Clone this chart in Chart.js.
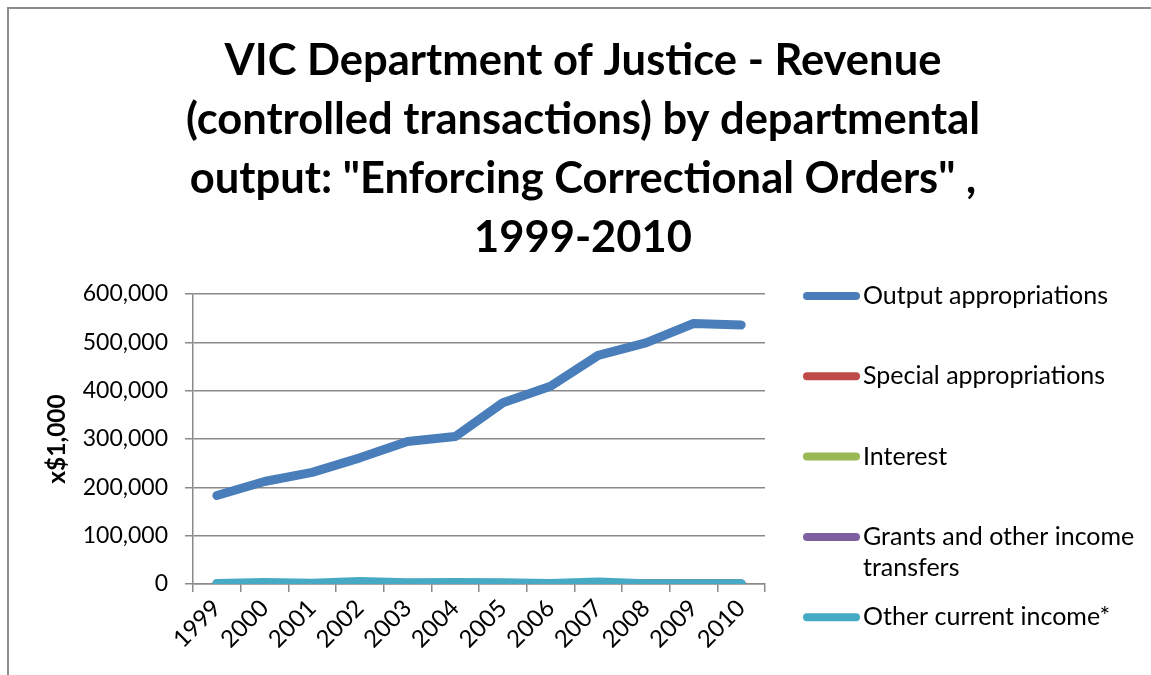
<!DOCTYPE html>
<html>
<head>
<meta charset="utf-8">
<script src="https://cdn.jsdelivr.net/npm/chart.js@4.4.0/dist/chart.umd.min.js"></script>
<style>
html, body { margin: 0; padding: 0; background: #fff; overflow: hidden; }
#wrap { position: relative; width: 1151px; height: 675px; }
#frame { position: absolute; left: 7px; top: 7px; width: 1200px; height: 700px;
  border-left: 2px solid #8c8c8c; border-top: 2px solid #8c8c8c; }
canvas { position: absolute; left: 0; top: 0; }
</style>
</head>
<body>
<div id="wrap">
  <div id="frame"></div>
  <canvas id="chart" width="1151" height="675"></canvas>
</div>
<script>
// data (x$1,000)
const years = ["1999","2000","2001","2002","2003","2004","2005","2006","2007","2008","2009","2010"];
const outputAppropriations = [183000, 212000, 231000, 261000, 295000, 305000, 375000, 409000, 473000, 499000, 539000, 536000];
const specialAppropriations = [0, 0, 0, 0, 0, 0, 0, 0, 0, 0, 0, 0];
const interest = [0, 0, 0, 0, 0, 0, 0, 0, 0, 0, 0, 0];
const grantsTransfers = [0, 0, 0, 0, 0, 0, 0, 0, 0, 0, 0, 0];
const otherCurrentIncome = [1000, 3000, 1500, 5000, 2500, 3000, 2500, 1000, 4000, 500, 500, 500];

const seriesNames = ["Output appropriations", "Special appropriations", "Interest",
  "Grants and other income transfers", "Other current income*"];
const seriesColors = ["#4a7ebb", "#be4b48", "#98b954", "#7d60a0", "#46aac5"];

const titleLines = ["VIC Department of Justice - Revenue",
  "(controlled transactions) by departmental",
  "output: \"Enforcing Correctional Orders\" ,",
  "1999-2010"];
const yTitle = "x$1,000";

const FONT = "Lato, 'Open Sans', sans-serif";
const GRID = "#8a8a8a";

const allValues = [outputAppropriations, specialAppropriations, interest, grantsTransfers, otherCurrentIncome];

const datasets = allValues.map((vals, i) => ({
  label: seriesNames[i],
  data: vals,
  borderColor: seriesColors[i],
  backgroundColor: seriesColors[i],
  borderWidth: 9,
  pointRadius: 0,
  tension: 0,
  borderCapStyle: "round",
  borderJoinStyle: "round",
  order: allValues.length - 1 - i
}));

/* ---------------- title drawn by hand (centred on whole chart) ---------------- */
const titlePlugin = {
  id: "bigTitle",
  afterDraw(chart) {
    const ctx = chart.ctx;
    ctx.save();
    ctx.font = "bold 43.5px " + FONT;
    ctx.fillStyle = "#000";
    ctx.textAlign = "center";
    ctx.textBaseline = "middle";
    titleLines.forEach((t, i) => ctx.fillText(t, 583, 61 + i * 59));
    ctx.restore();
  }
};

/* ---------------- legend on the right, Excel style ---------------- */
const legendPlugin = {
  id: "sideLegend",
  afterDraw(chart) {
    const ctx = chart.ctx;
    const x0 = chart.chartArea.right + 42;
    ctx.save();
    ctx.font = "25px " + FONT;
    ctx.textBaseline = "middle";
    ctx.textAlign = "left";
    chart.data.datasets.forEach((ds, i) => {
      const y = 296 + i * 80.3;
      ctx.strokeStyle = ds.borderColor;
      ctx.lineWidth = 8;
      ctx.lineCap = "round";
      ctx.beginPath();
      ctx.moveTo(x0, y);
      ctx.lineTo(x0 + 49, y);
      ctx.stroke();
      // wrap text
      const words = ds.label.split(" ");
      const lines = [];
      let cur = "";
      words.forEach(w => {
        const test = cur ? cur + " " + w : w;
        if (ctx.measureText(test).width > 280 && cur) { lines.push(cur); cur = w; }
        else cur = test;
      });
      lines.push(cur);
      ctx.fillStyle = "#000";
      lines.forEach((l, j) => ctx.fillText(l, x0 + 56, y + j * 31));
    });
    ctx.restore();
  }
};

new Chart(document.getElementById("chart"), {
  type: "line",
  data: { labels: years, datasets: datasets },
  plugins: [titlePlugin, legendPlugin],
  options: {
    responsive: false,
    devicePixelRatio: 1,
    animation: false,
    layout: { padding: { left: 0, right: 386, top: 294, bottom: 0 } },
    plugins: {
      legend: { display: false },
      title: { display: false },
      tooltip: { enabled: false }
    },
    scales: {
      x: {
        type: "category",
        offset: true,
        grid: { offset: true, drawOnChartArea: false, drawTicks: true, tickLength: 8, color: GRID, lineWidth: 1.5 },
        border: { color: GRID, width: 1.5 },
        ticks: { color: "#000", font: { family: FONT, size: 24 }, minRotation: 45, maxRotation: 45, autoSkip: false, padding: 2 },
        afterFit(scale) { scale.height = 91; }
      },
      y: {
        min: 0,
        max: 600000,
        grid: { color: GRID, lineWidth: 1.5, tickLength: 8 },
        border: { color: GRID, width: 1.5 },
        ticks: {
          stepSize: 100000,
          color: "#000",
          padding: 17,
          font: { family: FONT, size: 23 },
          callback: v => v.toLocaleString("en-US")
        },
        title: { display: true, text: yTitle, color: "#000", font: { family: FONT, size: 24.5, weight: "bold" }, padding: { top: 42 } },
        afterFit(scale) { scale.width = 193; }
      }
    }
  }
});
</script>
</body>
</html>
